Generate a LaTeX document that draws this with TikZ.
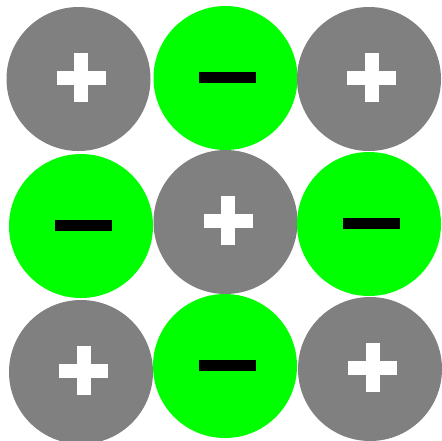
\documentclass[tikz,border=0pt]{standalone}
\usetikzlibrary{positioning}
\definecolor{iongray}{RGB}{128,128,128}
\definecolor{iongreen}{RGB}{0,255,0}
\tikzset{
  ion/.style    = {circle, inner sep=0pt, minimum size=72pt},
  cation/.style = {ion, fill=iongray,
                   path picture={
                     \fill[white] ([shift={(-11pt,-2.75pt)}]path picture bounding box.center)
                        rectangle ([shift={(13.5pt,4.25pt)}]path picture bounding box.center);
                     \fill[white] ([shift={(-2.25pt,-11.5pt)}]path picture bounding box.center)
                        rectangle ([shift={(4.75pt,13pt)}]path picture bounding box.center);}},
  anion/.style  = {ion, fill=iongreen,
                   path picture={
                     \fill[black] ([shift={(-13.1pt,-2.3pt)}]path picture bounding box.center)
                        rectangle ([shift={(15.4pt,2.9pt)}]path picture bounding box.center);}},
}
\begin{document}
\begin{tikzpicture}[x=0.5pt,y=-0.5pt]
 \useasboundingbox (0,0) rectangle (442,440);
 % lattice, row by row
 \foreach \name/\kind/\px/\py in {
     a1/cation/78.5/79,  a2/anion/225.5/78,  a3/cation/369/79,
     b1/anion/81/226,    b2/cation/225.5/222, b3/anion/369/224,
     c1/cation/81/372,   c2/anion/225/366,   c3/cation/370/369}{
   \node[\kind] (\name) at (\px,\py) {};}
\end{tikzpicture}
\end{document}
